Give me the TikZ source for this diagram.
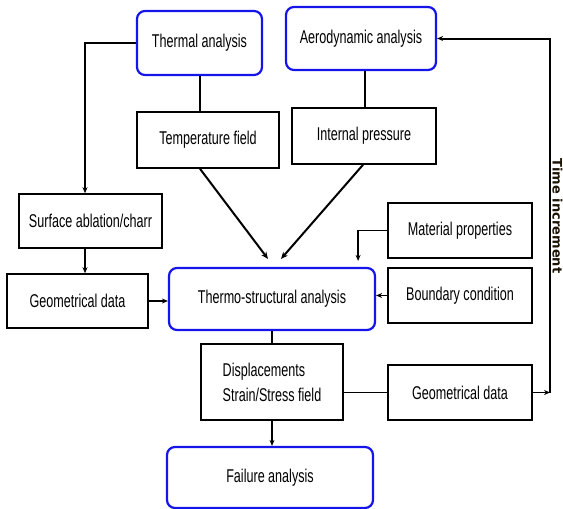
\documentclass[tikz,border=0pt]{standalone}
\usepackage{fontspec}
\setmainfont{Liberation Sans}[FakeStretch=0.68]
\newfontfamily\timefont{DejaVu Sans}
\usetikzlibrary{arrows.meta,positioning}
\definecolor{anablue}{RGB}{20,20,235}
\definecolor{timebrown}{RGB}{30,20,5}

\begin{document}
\begin{tikzpicture}[x=1pt,y=-1pt,
    font=\fontsize{18.5}{21}\selectfont,
    databox/.style={draw,line width=1.6pt,inner sep=0pt,align=center},
    anabox/.style={draw=anablue,line width=2.2pt,rounded corners=8pt,inner sep=0pt,align=center},
    link/.style={line width=1.5pt},
    feed/.style={line width=1.5pt,-{Stealth[length=6pt,width=5pt]}},
    slant/.style={line width=2pt,-{Stealth[length=7pt,width=6pt]}}]
  \useasboundingbox (0,0) rectangle (563,509);

  % analysis boxes
  \node[anabox,minimum width=125pt,minimum height=64pt] (therm) at (199.5,43) {Thermal analysis};
  \node[anabox,minimum width=150pt,minimum height=63pt] (aero) at (361,38.5) {Aerodynamic analysis};
  \node[anabox,minimum width=206pt,minimum height=62pt] (thermo) at (272,299) {Thermo-structural analysis};
  \node[anabox,minimum width=206pt,minimum height=61pt] (fail) at (270,477.5) {Failure analysis};

  % data boxes
  \node[databox,minimum width=142pt,minimum height=56pt] (temp) at (208,140) {Temperature field};
  \node[databox,minimum width=144pt,minimum height=56pt] (press) at (364,136) {Internal pressure};
  \node[databox,minimum width=143pt,minimum height=54pt] (ablat) at (90.5,221) {Surface ablation/charr};
  \node[databox,minimum width=141pt,minimum height=54pt] (geoL) at (77.5,301) {Geometrical data};
  \node[databox,minimum width=144pt,minimum height=55pt] (matl) at (460,230.5) {Material properties};
  \node[databox,minimum width=144pt,minimum height=55pt] (bound) at (460,295.5) {Boundary condition};
  \node[databox,minimum width=142pt,minimum height=76pt,align=left,
        font=\fontsize{18.5}{25}\selectfont] (disp) at (272,382) {Displacements\\Strain/Stress field};
  \node[databox,minimum width=144pt,minimum height=55pt] (geoR) at (460,392.5) {Geometrical data};

  \coordinate (loop) at (550,392.5);
  \node[rotate=-90,anchor=base,text=timebrown,font=\timefont\bfseries\fontsize{13}{15}\selectfont] (time) at (552.5,216) {Time increment};

  % thermal branch
  \draw[feed,line width=1.3pt] (therm.west) -| ([xshift=-5.5pt]ablat.north);
  \draw[feed,line width=1.3pt] ([xshift=-5.5pt]ablat.south) -- ([xshift=-5.5pt]ablat.south |- geoL.north);
  \draw[feed] (geoL.east) -- (geoL.east -| thermo.west);
  \draw[link] ([xshift=0.5pt]therm.south) -- ([xshift=0.5pt]therm.south |- temp.north);
  \draw[link] ([xshift=4pt]aero.south) -- ([xshift=4pt]aero.south |- press.north);

  % into the thermo-structural analysis
  \draw[slant] ([xshift=-8pt]temp.south) -- ([xshift=-4pt,yshift=8pt]thermo.north);
  \draw[slant] ([xshift=-1pt]press.south) -- ([xshift=9pt,yshift=8pt]thermo.north);
  \draw[feed] (matl.west) -| ([xshift=-18pt,yshift=6pt]thermo.north east);
  \draw[feed] (bound.west) -- (bound.west -| thermo.east);

  % results
  \draw[link] (thermo.south) -- (disp.north);
  \draw[feed,line width=1.3pt] (disp.south) -- (disp.south |- fail.north);
  \draw[link] (geoR.west -| disp.east) -- (geoR.west);

  % time loop
  \draw[feed] (geoR.east) -- (loop);
  \draw[feed,line width=2pt] (loop) |- (aero.east);
\end{tikzpicture}
\end{document}
